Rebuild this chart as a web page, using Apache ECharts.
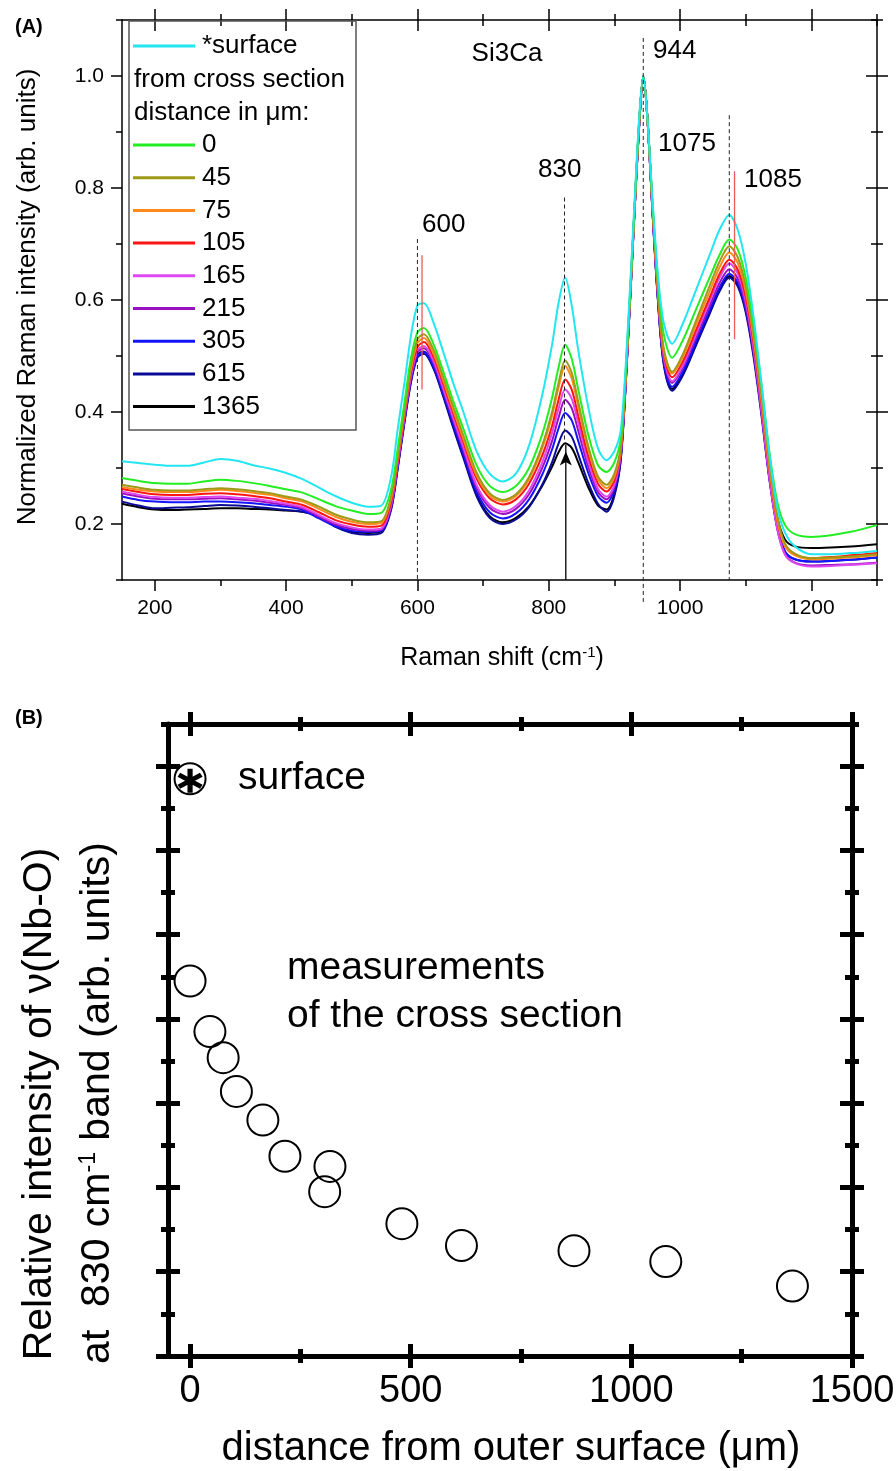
<!DOCTYPE html>
<html><head><meta charset="utf-8">
<script src="https://cdn.jsdelivr.net/npm/echarts@6/dist/echarts.min.js"></script>
<style>html,body{margin:0;padding:0;background:#fff}#c{width:896px;height:1471px}</style>
</head><body><div id="c"></div>
<script>
// ---------------- Panel A data ----------------
const ramanShift = [150,175,200,225,250,275,300,325,350,375,
 400,425,450,475,500,525,545,560,570,580,
 590,600,610,625,640,655,670,690,710,730,
 750,770,790,805,815,825,835,845,860,875,
 888,900,910,920,930,938,944,950,958,966,
 975,988,1005,1025,1045,1060,1075,1088,1100,1112,
 1124,1136,1148,1160,1175,1200,1230,1260,1300];

const specSurface = [.312,.309,.306,.304,.304,.310,.316,.313,.305,.299,
 .291,.280,.265,.250,.238,.231,.233,.285,.370,.450,
 .535,.590,.594,.558,.505,.450,.400,.330,.290,.276,
 .290,.340,.430,.520,.595,.640,.590,.510,.410,.335,
 .314,.330,.370,.540,.760,.930,1.000,.930,.780,.650,
 .560,.522,.560,.620,.680,.725,.752,.725,.665,.570,
 .450,.325,.230,.184,.160,.146,.146,.148,.152];
const spec0 = [.282,.277,.273,.272,.272,.276,.279,.277,.273,.268,
 .262,.256,.244,.232,.224,.218,.220,.262,.335,.415,
 .495,.542,.550,.520,.470,.418,.370,.305,.268,.257,
 .268,.300,.360,.425,.480,.520,.495,.440,.360,.305,
 .293,.310,.355,.530,.750,.925,1.000,.930,.775,.640,
 .540,.497,.530,.585,.640,.680,.708,.690,.640,.555,
 .450,.330,.240,.198,.182,.177,.180,.186,.198];
const spec45 = [.270,.265,.261,.260,.260,.262,.264,.262,.259,.255,
 .249,.243,.231,.217,.208,.203,.205,.250,.325,.405,
 .482,.530,.539,.510,.460,.408,.358,.292,.255,.243,
 .253,.284,.340,.400,.452,.492,.470,.418,.340,.285,
 .270,.290,.342,.525,.748,.923,1.000,.930,.770,.625,
 .515,.472,.505,.565,.625,.668,.696,.676,.625,.540,
 .430,.310,.215,.165,.147,.139,.140,.142,.146];
const spec75 = [.266,.261,.258,.257,.257,.259,.261,.259,.256,.252,
 .246,.240,.227,.213,.204,.200,.202,.246,.320,.400,
 .476,.523,.532,.503,.454,.402,.352,.287,.251,.240,
 .250,.280,.335,.393,.444,.482,.460,.410,.334,.280,
 .264,.284,.338,.522,.747,.922,1.000,.930,.768,.622,
 .510,.469,.500,.558,.615,.658,.685,.666,.616,.532,
 .422,.302,.208,.160,.144,.137,.138,.140,.144];
const spec105 = [.263,.257,.253,.252,.252,.254,.255,.253,.250,.246,
 .240,.234,.221,.207,.199,.195,.197,.240,.315,.395,
 .470,.516,.525,.497,.448,.396,.346,.281,.246,.235,
 .244,.272,.322,.375,.422,.458,.440,.393,.322,.272,
 .258,.278,.334,.520,.746,.921,1.000,.930,.766,.618,
 .505,.462,.492,.548,.604,.646,.672,.654,.606,.524,
 .416,.298,.206,.160,.145,.139,.141,.144,.148];
const spec165 = [.258,.252,.248,.247,.247,.248,.249,.247,.245,.241,
 .236,.230,.216,.202,.194,.190,.192,.235,.310,.390,
 .464,.510,.518,.490,.440,.388,.337,.270,.234,.222,
 .232,.260,.310,.362,.406,.440,.424,.380,.312,.263,
 .249,.270,.330,.517,.745,.920,1.000,.930,.764,.614,
 .500,.455,.485,.541,.597,.639,.665,.647,.598,.514,
 .404,.284,.192,.145,.130,.124,.125,.127,.130];
const spec215 = [.255,.249,.245,.244,.244,.245,.246,.244,.242,.238,
 .234,.228,.213,.199,.191,.188,.190,.232,.306,.386,
 .460,.506,.514,.486,.436,.383,.332,.265,.229,.218,
 .227,.253,.300,.348,.390,.422,.407,.366,.303,.257,
 .244,.266,.327,.515,.744,.919,1.000,.930,.762,.611,
 .496,.452,.481,.535,.589,.630,.655,.638,.590,.508,
 .400,.282,.192,.146,.131,.126,.127,.128,.131];
const spec305 = [.249,.243,.240,.239,.239,.240,.240,.239,.237,.234,
 .231,.225,.210,.196,.188,.186,.188,.229,.302,.382,
 .455,.500,.507,.480,.430,.377,.325,.258,.221,.210,
 .219,.244,.288,.333,.371,.398,.385,.348,.292,.250,
 .238,.261,.323,.513,.743,.918,1.000,.930,.760,.608,
 .492,.445,.474,.528,.582,.622,.647,.631,.585,.505,
 .400,.284,.196,.151,.137,.133,.134,.136,.140];
const spec615 = [.240,.233,.228,.229,.230,.232,.234,.233,.231,.228,
 .225,.222,.213,.195,.184,.181,.184,.226,.299,.379,
 .452,.497,.504,.476,.425,.370,.318,.250,.211,.200,
 .208,.230,.270,.310,.344,.367,.356,.324,.274,.236,
 .222,.250,.318,.510,.742,.917,1.000,.930,.758,.604,
 .486,.438,.467,.521,.575,.615,.640,.624,.578,.498,
 .394,.280,.194,.150,.137,.133,.134,.136,.140];
const spec1365 = [.236,.230,.226,.225,.226,.227,.228,.228,.227,.226,
 .224,.222,.215,.197,.186,.184,.187,.229,.302,.383,
 .456,.502,.508,.478,.428,.373,.321,.253,.214,.203,
 .211,.232,.268,.302,.328,.344,.336,.310,.266,.233,
 .226,.254,.320,.511,.742,.917,1.000,.930,.759,.606,
 .489,.441,.470,.524,.578,.618,.643,.627,.582,.504,
 .404,.296,.212,.172,.160,.157,.158,.160,.164];

const spectraNames = ['*surface','0','45','75','105','165','215','305','615','1365'];
const spectraValues = [specSurface,spec0,spec45,spec75,spec105,spec165,spec215,spec305,spec615,spec1365];
const spectraColors = ['#22e6f0','#22ee22','#9e9a18','#ff8a1c','#ff1414','#de48f2','#9a10c0','#1414ff','#0a0a96','#000000'];

const aXMajor = [200,400,600,800,1000,1200];
const aXMinor = [300,500,700,900,1100,1300];
const aYMajor = [0.2,0.4,0.6,0.8,1.0];
const aYMinor = [0.1,0.3,0.5,0.7,0.9,1.1];

// annotation lines [x, yFrom, yTo]
const dashedLines = [[600,0.709,0.1],[824,0.783,0.35],[944,1.068,0.058],[1075,0.93,0.1]];
const redLines = [[607,0.68,0.44],[1083,0.83,0.53]];
const arrowLine = [826,0.1,0.342];

// ---------------- Panel B data ----------------
const distances = [0,45,75,105,165,215,317,305,480,615,870,1078,1365];
const relIntensity = [4.45,3.85,3.54,3.14,2.80,2.37,2.25,1.95,1.57,1.31,1.25,1.12,0.83];
const surfacePoint = [0,6.85];
const bXMajor = [0,500,1000,1500];
const bXMinor = [250,750,1250];
const bYMajor = [0,1,2,3,4,5,6,7];
const bYMinor = [0.5,1.5,2.5,3.5,4.5,5.5,6.5,7.5];

// ---------------- chart ----------------
const FF = '"Liberation Sans", Arial, Helvetica, sans-serif';
const chart = echarts.init(document.getElementById('c'), null, {renderer:'canvas'});

function ax(o){
  return {
    type:'value', gridIndex:o.g, position:o.pos, min:o.min, max:o.max,
    axisLine:{show:!!o.line, onZero:false, lineStyle:{color:'#000', width:o.lw||1.5}},
    axisTick:{show:true, customValues:o.vals, length:o.len, inside:!!o.inside, lineStyle:{color:'#000', width:o.tw||1.5}},
    axisLabel: o.label ? Object.assign({customValues:o.vals}, o.label) : {show:false},
    splitLine:{show:false}, splitArea:{show:false}, minorTick:{show:false}, minorSplitLine:{show:false},
    axisPointer:{show:false}, silent:true
  };
}
const xAxes=[], yAxes=[];
const addX = o => (xAxes.push(ax(o)), xAxes.length-1);
const addY = o => (yAxes.push(ax(o)), yAxes.length-1);

// Panel A axes
const AX = {min:150,max:1300}, AY = {min:0.1,max:1.1};
const aX0 = addX(Object.assign({g:0,pos:'bottom',vals:aXMajor,len:11,line:true,
  label:{fontSize:21,color:'#000',margin:18,fontFamily:FF,formatter:v=>String(v)}},AX));
addX(Object.assign({g:0,pos:'bottom',vals:aXMinor,len:6},AX));
addX(Object.assign({g:0,pos:'top',vals:aXMajor,len:11,line:true},AX));
addX(Object.assign({g:0,pos:'top',vals:aXMajor,len:11,inside:true},AX));
addX(Object.assign({g:0,pos:'top',vals:aXMinor,len:6},AX));
addX(Object.assign({g:0,pos:'top',vals:aXMinor,len:6,inside:true},AX));
const aY0 = addY(Object.assign({g:0,pos:'left',vals:aYMajor,len:11,line:true,
  label:{fontSize:21,color:'#000',margin:18,fontFamily:FF,formatter:v=>v.toFixed(1)}},AY));
addY(Object.assign({g:0,pos:'left',vals:aYMinor,len:6},AY));
addY(Object.assign({g:0,pos:'right',vals:aYMajor,len:11,line:true},AY));
addY(Object.assign({g:0,pos:'right',vals:aYMajor,len:11,inside:true},AY));
addY(Object.assign({g:0,pos:'right',vals:aYMinor,len:6},AY));
addY(Object.assign({g:0,pos:'right',vals:aYMinor,len:6,inside:true},AY));

// Panel B axes
const BX = {min:-50,max:1500,lw:5,tw:5}, BY = {min:0,max:7.5,lw:5,tw:5};
const bX0 = addX(Object.assign({g:1,pos:'bottom',vals:bXMajor,len:12,line:true,
  label:{fontSize:38,color:'#000',margin:17,fontFamily:FF,formatter:v=>String(v)}},BX));
addX(Object.assign({g:1,pos:'bottom',vals:bXMajor,len:12,inside:true},BX));
addX(Object.assign({g:1,pos:'bottom',vals:bXMinor,len:7},BX));
addX(Object.assign({g:1,pos:'bottom',vals:bXMinor,len:7,inside:true},BX));
addX(Object.assign({g:1,pos:'top',vals:bXMajor,len:12,line:true},BX));
addX(Object.assign({g:1,pos:'top',vals:bXMajor,len:12,inside:true},BX));
addX(Object.assign({g:1,pos:'top',vals:bXMinor,len:7},BX));
addX(Object.assign({g:1,pos:'top',vals:bXMinor,len:7,inside:true},BX));
const bY0 = addY(Object.assign({g:1,pos:'left',vals:bYMajor,len:12,line:true},BY));
addY(Object.assign({g:1,pos:'left',vals:bYMajor,len:12,inside:true},BY));
addY(Object.assign({g:1,pos:'left',vals:bYMinor,len:7},BY));
addY(Object.assign({g:1,pos:'left',vals:bYMinor,len:7,inside:true},BY));
addY(Object.assign({g:1,pos:'right',vals:bYMajor,len:12,line:true},BY));
addY(Object.assign({g:1,pos:'right',vals:bYMajor,len:12,inside:true},BY));
addY(Object.assign({g:1,pos:'right',vals:bYMinor,len:7},BY));
addY(Object.assign({g:1,pos:'right',vals:bYMinor,len:7,inside:true},BY));

const series = [];
// spectra, surface drawn last (on top)
for (let i = spectraNames.length-1; i >= 0; i--) {
  series.push({
    type:'line', name:spectraNames[i], xAxisIndex:aX0, yAxisIndex:aY0,
    data: ramanShift.map((x,k)=>[x, spectraValues[i][k]]),
    symbol:'none', smooth:0.3,
    lineStyle:{color:spectraColors[i], width:2}, itemStyle:{color:spectraColors[i]},
    silent:true, z:2
  });
}
dashedLines.forEach(l => series.push({
  type:'line', xAxisIndex:aX0, yAxisIndex:aY0, data:[[l[0],l[1]],[l[0],l[2]]],
  symbol:'none', clip:false, silent:true, z:4,
  lineStyle:{color:'#222', width:1, type:[4,3]}
}));
redLines.forEach(l => series.push({
  type:'line', xAxisIndex:aX0, yAxisIndex:aY0, data:[[l[0],l[1]],[l[0],l[2]]],
  symbol:'none', clip:false, silent:true, z:4,
  lineStyle:{color:'#ec5a5a', width:1.3}
}));
series.push({
  type:'line', xAxisIndex:aX0, yAxisIndex:aY0, showSymbol:true, clip:false, silent:true, z:5,
  data:[{value:[arrowLine[0],arrowLine[1]], symbol:'none'},
        {value:[arrowLine[0],arrowLine[2]], symbol:'arrow', symbolSize:[9,14], symbolOffset:[0,7]}],
  lineStyle:{color:'#000', width:1.3}, itemStyle:{color:'#000'}
});

// Panel B
series.push({
  type:'scatter', xAxisIndex:bX0, yAxisIndex:bY0, silent:true, z:3,
  data: distances.map((d,i)=>[d, relIntensity[i]]),
  symbol:'circle', symbolSize:31,
  itemStyle:{color:'rgba(0,0,0,0)', borderColor:'#000', borderWidth:2, opacity:1}
});
series.push({
  type:'scatter', xAxisIndex:bX0, yAxisIndex:bY0, silent:true, z:3,
  data:[surfacePoint], symbol:'circle', symbolSize:31,
  itemStyle:{color:'rgba(0,0,0,0)', borderColor:'#000', borderWidth:2, opacity:1}
});
const STAR = 'path://M-2.2,-11L2.2,-11L2.2,11L-2.2,11Z M8.426,-7.405L10.626,-3.595L-8.426,7.405L-10.626,3.595Z M-10.626,-3.595L-8.426,-7.405L10.626,3.595L8.426,7.405Z';
series.push({
  type:'scatter', xAxisIndex:bX0, yAxisIndex:bY0, silent:true, z:4,
  data:[surfacePoint], symbol:STAR, symbolSize:[25,24], symbolOffset:[0,2],
  itemStyle:{color:'#000', opacity:1}
});

function txt(x,y,text,size,extra){
  const e = {type:'text', x:x, y:y, silent:true, z:100,
    style:Object.assign({text:text, fill:'#000', fontSize:size, fontFamily:FF, align:'left', verticalAlign:'middle'}, (extra&&extra.style)||{})};
  if (extra && extra.rotation) e.rotation = extra.rotation;
  return e;
}
const C = {style:{align:'center'}};
const graphics = [
  txt(15,27,'(A)',20,{style:{fontWeight:'bold'}}),
  txt(15,718,'(B)',20,{style:{fontWeight:'bold'}}),
  {type:'rect', silent:true, z:90, shape:{x:129,y:21,width:227,height:409}, style:{fill:'none', stroke:'#555', lineWidth:1.5}},
  txt(134,80,'from cross section',26),
  txt(134,113,'distance in \u03bcm:',26),
  txt(507,54,'Si3Ca',26,C),
  txt(653,51,'944',26),
  txt(658,144,'1075',26),
  txt(538,170,'830',26),
  txt(744,180,'1085',26),
  txt(422,225,'600',26),
  txt(28,297,'Normalized Raman intensity (arb. units)',26,{rotation:Math.PI/2, style:{align:'center'}}),
  txt(502,658,'{n|Raman shift (cm}{s|-1}{n|)}',25,{style:{align:'center',
     rich:{n:{fontSize:25,fontFamily:FF,fill:'#000'}, s:{fontSize:15,fontFamily:FF,fill:'#000',verticalAlign:'top'}}}}),
  // panel B texts
  txt(238,778,'surface',39),
  txt(287,968,'measurements',39),
  txt(287,1016,'of the cross section',39),
  txt(511,1449,'distance from outer surface (\u03bcm)',40,C),
  txt(40,1104,'Relative intensity of \u03bd(Nb-O)',41,{rotation:Math.PI/2, style:{align:'center'}}),
  txt(98,1103,'{n|at  830 cm}{s|-1}{n| band (arb. units)}',41,{rotation:Math.PI/2, style:{align:'center',
     rich:{n:{fontSize:41,fontFamily:FF,fill:'#000'}, s:{fontSize:23,fontFamily:FF,fill:'#000',verticalAlign:'top'}}}})
];

const legendCommon = {
  left:133, padding:0, itemWidth:62, itemHeight:3, selectedMode:false, icon:'rect',
  textStyle:{fontSize:26, lineHeight:26, color:'#000', fontFamily:FF, padding:[0,0,0,2]},
  orient:'vertical', z:95
};

chart.setOption({
  animation:false,
  textStyle:{fontFamily:FF},
  grid:[
    {left:122, top:20, right:19, bottom:891, outerBoundsMode:'none', containLabel:false},
    {left:168, top:724, right:44, bottom:115, outerBoundsMode:'none', containLabel:false}
  ],
  xAxis:xAxes, yAxis:yAxes,
  legend:[
    Object.assign({}, legendCommon, {top:33, data:['*surface']}),
    Object.assign({}, legendCommon, {top:132, itemGap:6.7, data:spectraNames.slice(1)})
  ],
  graphic:{elements:graphics},
  series:series
});
</script>
</body></html>
